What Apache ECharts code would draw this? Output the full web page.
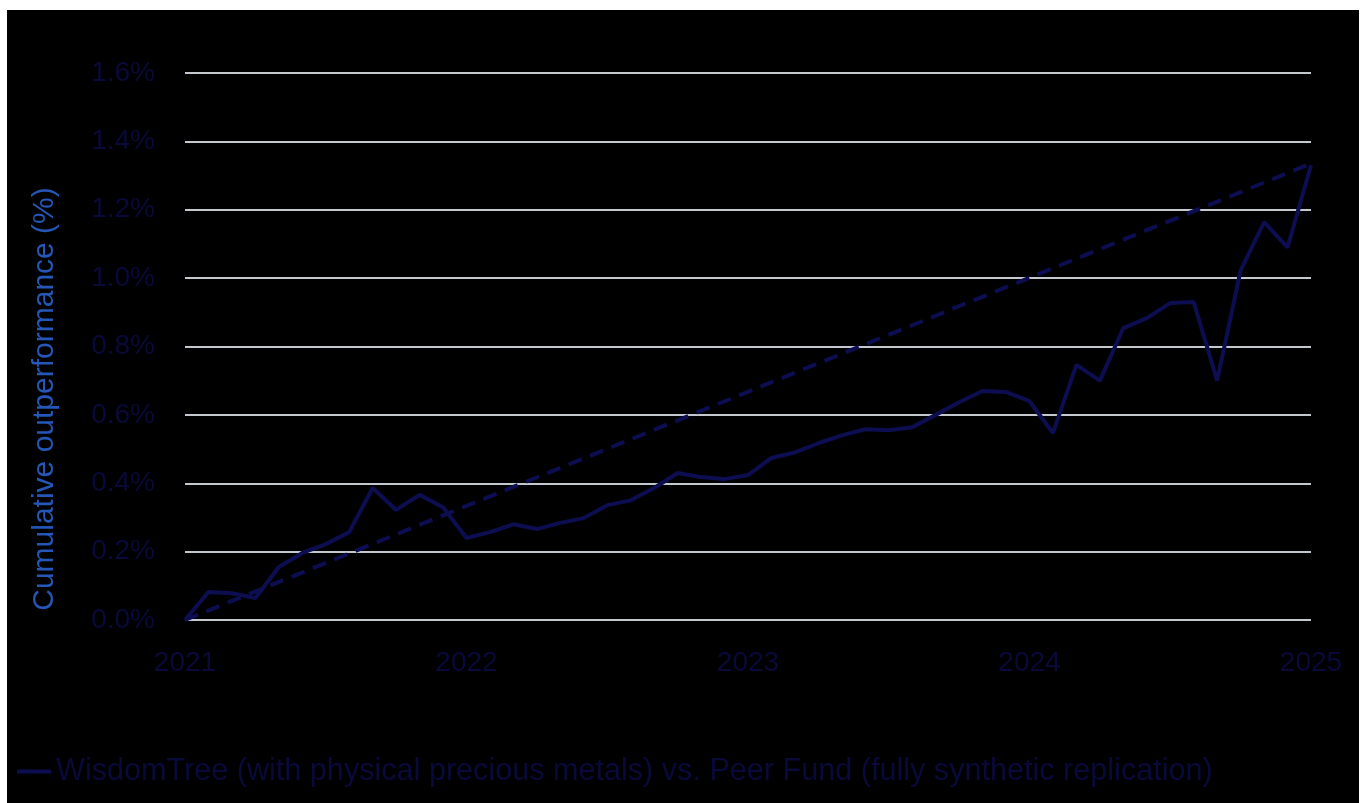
<!DOCTYPE html>
<html>
<head>
<meta charset="utf-8">
<script src="https://cdn.jsdelivr.net/npm/echarts@6/dist/echarts.min.js"></script>
<style>
html,body{margin:0;padding:0;background:#ffffff;width:1365px;height:803px;overflow:hidden;}
#chart{position:absolute;left:7px;top:10px;width:1352px;height:793px;background:#000000;}
</style>
</head>
<body>
<div id="chart"></div>
<script>
const months = [
 '2021-01','2021-02','2021-03','2021-04','2021-05','2021-06','2021-07','2021-08','2021-09','2021-10','2021-11','2021-12',
 '2022-01','2022-02','2022-03','2022-04','2022-05','2022-06','2022-07','2022-08','2022-09','2022-10','2022-11','2022-12',
 '2023-01','2023-02','2023-03','2023-04','2023-05','2023-06','2023-07','2023-08','2023-09','2023-10','2023-11','2023-12',
 '2024-01','2024-02','2024-03','2024-04','2024-05','2024-06','2024-07','2024-08','2024-09','2024-10','2024-11','2024-12',
 '2025-01'
];
// cumulative outperformance, %
const outperformance = [
 0.000, 0.082, 0.078, 0.064, 0.155, 0.196, 0.222, 0.257, 0.386, 0.322, 0.366, 0.330,
 0.240, 0.257, 0.280, 0.266, 0.284, 0.298, 0.336, 0.350, 0.386, 0.430, 0.418, 0.412,
 0.424, 0.474, 0.490, 0.517, 0.540, 0.558, 0.555, 0.564, 0.600, 0.637, 0.670, 0.667,
 0.640, 0.547, 0.746, 0.700, 0.854, 0.883, 0.927, 0.930, 0.700, 1.023, 1.164, 1.090,
 1.330
];
const trendStart = ['2021-01', 0.000];
const trendEnd = ['2025-01', 1.335];
const seriesName = 'WisdomTree (with physical precious metals) vs. Peer Fund (fully synthetic replication)';
const yAxisName = 'Cumulative outperformance (%)';

const lineColor = '#0d0d52';
const labelColor = '#09093a';
const font = 'Liberation Sans';

const chart = echarts.init(document.getElementById('chart'));
chart.setOption({
  backgroundColor: '#000000',
  animation: false,
  grid: { left: 178, right: 48, top: 63, bottom: 183, containLabel: false },
  graphic: [{
    type: 'text',
    x: 38, y: 389,
    rotation: Math.PI / 2,
    style: {
      text: yAxisName,
      fill: '#2457b8',
      font: '30px "Liberation Sans"',
      textAlign: 'center',
      textVerticalAlign: 'middle'
    }
  }],
  legend: {
    left: 5, top: 741,
    data: [{ name: seriesName, icon: 'rect' }],
    itemWidth: 34, itemHeight: 4, itemGap: 10,
    textStyle: { color: labelColor, fontFamily: font, fontSize: 30.6 }
  },
  xAxis: {
    type: 'category',
    data: months,
    boundaryGap: false,
    axisLine: { show: false },
    axisTick: { show: false },
    splitLine: { show: false },
    axisLabel: {
      interval: 11,
      margin: 29,
      color: labelColor, fontFamily: font, fontSize: 28,
      formatter: v => v.slice(0, 4)
    }
  },
  yAxis: {
    type: 'value',
    min: 0, max: 1.6, interval: 0.2,
    axisLine: { show: false },
    axisTick: { show: false },
    splitLine: { lineStyle: { color: '#c3c7ce', width: 2 } },
    axisLabel: {
      margin: 30,
      color: labelColor, fontFamily: font, fontSize: 28,
      formatter: v => v.toFixed(1) + '%'
    }
  },
  series: [
    {
      name: seriesName,
      type: 'line',
      data: outperformance,
      showSymbol: false,
      symbol: 'none',
      lineStyle: { color: lineColor, width: 4 },
      itemStyle: { color: lineColor },
      z: 3
    },
    {
      name: 'trend',
      type: 'line',
      data: [trendStart, trendEnd],
      showSymbol: false,
      symbol: 'none',
      lineStyle: { color: lineColor, width: 4, type: [14, 9] },
      itemStyle: { color: lineColor },
      z: 2
    }
  ]
});
</script>
</body>
</html>
